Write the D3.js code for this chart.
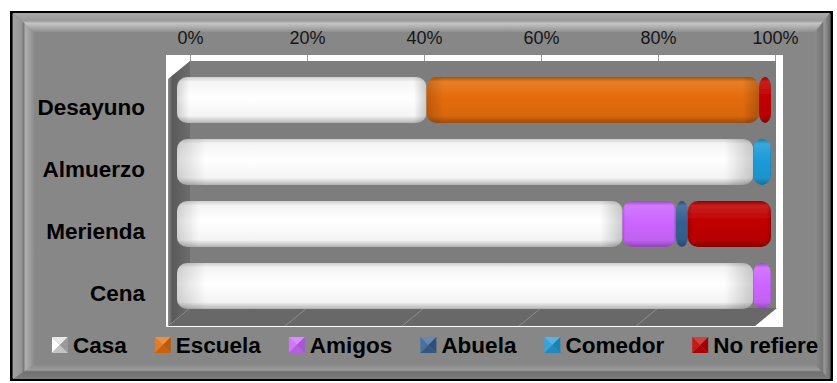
<!DOCTYPE html>
<html>
<head>
<meta charset="utf-8">
<script src="https://cdn.jsdelivr.net/npm/d3@7"></script>
<style>
  html, body { margin: 0; padding: 0; background: #fff; }
  svg { display: block; }
</style>
</head>
<body>
<svg id="chart" width="837" height="383"></svg>
<script>
// Meal categories and where each meal is eaten (percent of respondents)
const categories = ["Desayuno", "Almuerzo", "Merienda", "Cena"];
const seriesNames = ["Casa", "Escuela", "Amigos", "Abuela", "Comedor", "No refiere"];
const casa      = [42, 97, 75, 97];
const escuela   = [56, 0, 0, 0];
const amigos    = [0, 0, 9, 3];
const abuela    = [0, 0, 2, 0];
const comedor   = [0, 3, 0, 0];
const noRefiere = [2, 0, 14, 0];
const tickValues = [0, 20, 40, 60, 80, 100];
const seriesColors = ["#ffffff", "#e46c0a", "#cc66ff", "#366092", "#1e9bd7", "#c00000"];

const seriesValues = [casa, escuela, amigos, abuela, comedor, noRefiere];
const rows = categories.map((c, i) => {
  const r = { cat: c };
  seriesNames.forEach((s, k) => { r[s] = seriesValues[k][i]; });
  return r;
});
const stacked = d3.stack().keys(seriesNames)(rows);

const svg = d3.select("#chart");
const defs = svg.append("defs");

// ---------- outer frame ----------
const O = { x0: 13, y0: 13, x1: 830, y1: 379 };
const I = { x0: 34, y0: 32, x1: 815, y1: 365 };
svg.append("rect")
  .attr("x", 11.25).attr("y", 12.25).attr("width", 820.5).attr("height", 367.5)
  .attr("fill", "#8a8a8a").attr("stroke", "#000").attr("stroke-width", 2.5);

function lin(id, x2, y2, stops) {
  const g = defs.append("linearGradient").attr("id", id)
    .attr("x1", 0).attr("y1", 0).attr("x2", x2).attr("y2", y2);
  stops.forEach(([o, c]) => g.append("stop").attr("offset", o).attr("stop-color", c));
}
lin("bvTop", 0, 1, [[0, "#a9a9a9"], [0.4, "#9a9a9a"], [0.55, "#c4c4c4"], [1, "#909090"]]);
lin("bvLeft", 1, 0, [[0, "#a2a2a2"], [0.4, "#969696"], [0.5, "#7a7a7a"], [0.6, "#b0b0b0"], [1, "#8c8c8c"]]);
lin("bvRight", 1, 0, [[0, "#8a8a8a"], [0.5, "#767676"], [0.6, "#9a9a9a"], [1, "#6a6a6a"]]);
lin("bvBottom", 0, 1, [[0, "#8a8a8a"], [0.35, "#9c9c9c"], [0.5, "#707070"], [1, "#7c7c7c"]]);

const bevel = [
  { id: "bvTop",    pts: [[O.x0, O.y0], [O.x1, O.y0], [I.x1, I.y0], [I.x0, I.y0]] },
  { id: "bvLeft",   pts: [[O.x0, O.y0], [I.x0, I.y0], [I.x0, I.y1], [O.x0, O.y1]] },
  { id: "bvRight",  pts: [[O.x1, O.y0], [O.x1, O.y1], [I.x1, I.y1], [I.x1, I.y0]] },
  { id: "bvBottom", pts: [[O.x0, O.y1], [I.x0, I.y1], [I.x1, I.y1], [O.x1, O.y1]] }
];
svg.append("g").selectAll("polygon").data(bevel).join("polygon")
  .attr("points", d => d.pts.map(p => p.join(",")).join(" "))
  .attr("fill", d => `url(#${d.id})`);
svg.append("rect")
  .attr("x", I.x0).attr("y", I.y0).attr("width", I.x1 - I.x0).attr("height", I.y1 - I.y0)
  .attr("fill", "#878787");

// ---------- 3D plot box ----------
const plot = { x0: 166, y0: 55, x1: 783, y1: 327 };
const wall = { x0: 190, y0: 61, x1: 776, y1: 308 };
const depth = { dx: -22, dy: 18 };

svg.append("rect")
  .attr("x", plot.x0).attr("y", plot.y0)
  .attr("width", plot.x1 - plot.x0).attr("height", plot.y1 - plot.y0)
  .attr("fill", "#ffffff");

svg.append("rect")
  .attr("x", wall.x0).attr("y", wall.y0)
  .attr("width", wall.x1 - wall.x0).attr("height", wall.y1 - wall.y0)
  .attr("fill", "#7d7d7d");

lin("sideWall", 1, 0, [[0, "#8c8c8c"], [0.2, "#5a5a5a"], [1, "#6c6c6c"]]);
svg.append("polygon")
  .attr("points", [
    [wall.x0 + depth.dx, wall.y0 + depth.dy], [wall.x0, wall.y0],
    [wall.x0, wall.y1], [wall.x0 + depth.dx, wall.y1 + depth.dy]
  ].map(p => p.join(",")).join(" "))
  .attr("fill", "url(#sideWall)");

svg.append("polygon")
  .attr("points", [
    [wall.x0, wall.y1], [wall.x1 + 1, wall.y1],
    [wall.x1 + 1 + depth.dx, wall.y1 + depth.dy], [wall.x0 + depth.dx, wall.y1 + depth.dy]
  ].map(p => p.join(",")).join(" "))
  .attr("fill", "#686868");

// scales: axis on the back wall, bars on the front face
const xAxisScale = d3.scaleLinear().domain([0, 100]).range([wall.x0, 775]);
const xBar = d3.scaleLinear().domain([0, 100]).range([177, 771]);
const yBand = d3.scaleBand().domain(categories).range([69, 317])
  .paddingInner(0.26).paddingOuter(0.13);

// floor grid lines
svg.append("g").selectAll("line").data(tickValues.slice(1, -1)).join("line")
  .attr("x1", d => xAxisScale(d)).attr("y1", wall.y1)
  .attr("x2", d => xAxisScale(d) + depth.dx).attr("y2", wall.y1 + depth.dy)
  .attr("stroke", "#8e8e8e").attr("stroke-width", 1);

// top axis
const axis = d3.axisTop(xAxisScale).tickValues(tickValues)
  .tickFormat(d => d + "%").tickSize(6).tickPadding(11);
const axG = svg.append("g").attr("transform", `translate(0,${wall.y0})`).call(axis);
axG.select(".domain").remove();
axG.selectAll(".tick line").attr("stroke", "#9a9a9a");
axG.selectAll(".tick text")
  .attr("font-family", "'Liberation Sans', Arial, sans-serif")
  .attr("font-size", 18).attr("fill", "#161616");

// ---------- bars ----------
function shade(c, k) { return d3.color(c).darker(k).formatHex(); }
function tint(c, k) { return d3.interpolateRgb(c, "#ffffff")(k); }
seriesNames.forEach((s, i) => {
  const c = seriesColors[i];
  const isWhite = i === 0;
  lin("bar" + i, 0, 1, isWhite
    ? [[0, "#cfcfcf"], [0.1, "#f4f4f4"], [0.45, "#ffffff"], [0.85, "#f4f4f4"], [1, "#b4b4b4"]]
    : [[0, shade(c, 0.8)], [0.1, tint(c, 0.12)], [0.45, c], [0.85, shade(c, 0.15)], [1, shade(c, 1.0)]]);
});
lin("barEnds", 1, 0, [[0, "rgba(0,0,0,0.16)"], [0.05, "rgba(0,0,0,0)"], [0.95, "rgba(0,0,0,0)"], [1, "rgba(0,0,0,0.2)"]]);
defs.append("filter").attr("id", "soft")
  .append("feGaussianBlur").attr("stdDeviation", 0.7);

const barG = svg.append("g").attr("filter", "url(#soft)");
stacked.forEach((layer, i) => {
  const segs = layer.filter(d => d[1] - d[0] > 0);
  const g = barG.append("g");
  const seg = g.selectAll("g").data(segs).join("g");
  const w = d => xBar(d[1]) - xBar(d[0]);
  seg.append("rect")
    .attr("x", d => xBar(d[0])).attr("y", d => yBand(d.data.cat))
    .attr("width", w).attr("height", yBand.bandwidth())
    .attr("rx", d => Math.min(10, w(d) / 2)).attr("ry", 10)
    .attr("fill", `url(#bar${i})`);
  seg.append("rect")
    .attr("x", d => xBar(d[0])).attr("y", d => yBand(d.data.cat))
    .attr("width", w).attr("height", yBand.bandwidth())
    .attr("rx", d => Math.min(10, w(d) / 2)).attr("ry", 10)
    .attr("fill", "url(#barEnds)");
});

// category labels
const labelFont = "'Liberation Sans', Arial, sans-serif";
svg.append("g").selectAll("text").data(categories).join("text")
  .attr("x", 145)
  .attr("y", d => yBand(d) + yBand.bandwidth() / 2 + 7)
  .attr("dy", "0.35em")
  .attr("text-anchor", "end")
  .attr("font-family", labelFont).attr("font-weight", "bold")
  .attr("font-size", 22.5).attr("fill", "#000")
  .text(d => d);

// ---------- legend ----------
const legG = svg.append("g");
let lx = 52;
const ly = 337, sw = 16;
seriesNames.forEach((s, i) => {
  const c = seriesColors[i];
  const g = legG.append("g");
  const x0 = lx, y0 = ly, x1 = lx + sw, y1 = ly + sw, cx = lx + sw / 2, cy = ly + sw / 2;
  const tris = [
    { pts: [[x0, y0], [x1, y0], [cx, cy]], col: i === 0 ? "#e8e8e8" : tint(c, 0.25) },
    { pts: [[x0, y0], [x0, y1], [cx, cy]], col: i === 0 ? "#ffffff" : tint(c, 0.1) },
    { pts: [[x1, y0], [x1, y1], [cx, cy]], col: i === 0 ? "#9a9a9a" : shade(c, 0.5) },
    { pts: [[x0, y1], [x1, y1], [cx, cy]], col: i === 0 ? "#c4c4c4" : shade(c, 0.3) }
  ];
  g.selectAll("polygon").data(tris).join("polygon")
    .attr("points", d => d.pts.map(p => p.join(",")).join(" "))
    .attr("fill", d => d.col);
  const t = g.append("text")
    .attr("x", x1 + 5).attr("y", cy).attr("dy", "0.36em")
    .attr("font-family", labelFont).attr("font-weight", "bold")
    .attr("font-size", 22.5).attr("fill", "#000")
    .text(s);
  lx = x1 + 5 + t.node().getComputedTextLength() + 28;
});
</script>
</body>
</html>
